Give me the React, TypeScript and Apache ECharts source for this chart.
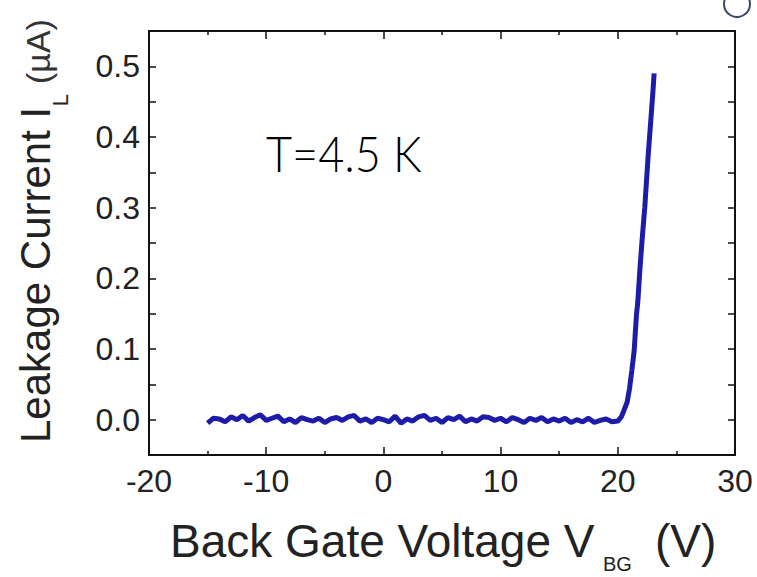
import React, { useEffect, useRef } from "react";
import * as echarts from "echarts";

// Back gate voltage (V) and leakage current (µA)
const voltage: number[] = [
  -15, -14.5, -14, -13.5, -13, -12.5, -12, -11.5, -11, -10.5,
  -10, -9.5, -9, -8.5, -8, -7.5, -7, -6.5, -6, -5.5,
  -5, -4.5, -4, -3.5, -3, -2.5, -2, -1.5, -1, -0.5,
  0, 0.5, 1, 1.5, 2, 2.5, 3, 3.5, 4, 4.5,
  5, 5.5, 6, 6.5, 7, 7.5, 8, 8.5, 9, 9.5,
  10, 10.5, 11, 11.5, 12, 12.5, 13, 13.5, 14, 14.5,
  15, 15.5, 16, 16.5, 17, 17.5, 18, 18.5, 19, 19.5,
  20, 20.3, 20.5, 20.8, 21.0, 21.2, 21.4, 21.5, 21.6, 21.7,
  21.9, 22.1, 22.3, 22.6, 22.8, 23.0, 23.1,
];
const current: number[] = [
  -0.005, 0.002, 0.001, -0.003, 0.004, 0.000, 0.006, -0.002, 0.003, 0.007,
  -0.001, 0.002, 0.005, -0.003, 0.001, -0.004, 0.003, 0.000, -0.002, 0.002,
  -0.004, 0.001, 0.003, -0.001, 0.004, 0.006, -0.002, 0.001, -0.004, 0.002,
  0.000, -0.003, 0.005, -0.005, 0.001, -0.002, 0.004, 0.006, -0.001, 0.002,
  -0.004, 0.003, 0.000, 0.005, -0.003, 0.001, -0.002, 0.004, 0.003, -0.001,
  0.002, -0.003, 0.003, 0.000, -0.004, 0.002, -0.001, 0.003, -0.003, 0.001,
  -0.002, 0.002, -0.004, 0.000, -0.003, 0.002, -0.004, -0.001, 0.001, -0.003,
  -0.002, 0.004, 0.012, 0.025, 0.044, 0.07, 0.098, 0.125, 0.15, 0.165,
  0.216, 0.26, 0.30, 0.376, 0.42, 0.465, 0.49,
];

const yLabelValues: number[] = [0, 0.1, 0.2, 0.3, 0.4, 0.5];
const yTickValues: number[] = [0, 0.05, 0.1, 0.15, 0.2, 0.25, 0.3, 0.35, 0.4, 0.45, 0.5];

export default function App() {
  const ref = useRef<HTMLDivElement>(null);
  useEffect(() => {
    if (!ref.current) return;
    const chart = echarts.init(ref.current, undefined, { renderer: "svg" });
    const labelFont = { fontFamily: "Liberation Sans, Arial, sans-serif", fontSize: 32, color: "#222" };
    const axisLine = { show: true, onZero: false, lineStyle: { color: "#111", width: 2 } };
    const yTick = { show: true, inside: true, length: 7, customValues: yTickValues, lineStyle: { color: "#111", width: 1.5 } };
    const xCommon = {
      type: "value" as const,
      min: -20,
      max: 30,
      interval: 10,
      splitLine: { show: false },
      axisLine,
      axisTick: { show: true, inside: true, length: 8, lineStyle: { color: "#111", width: 1.5 } },
      minorTick: { show: true, splitNumber: 2, length: 4, lineStyle: { color: "#111", width: 1.5 } },
    };
    const yCommon = {
      type: "value" as const,
      min: -0.05,
      max: 0.55,
      splitLine: { show: false },
      axisLine,
      axisTick: yTick,
    };
    const data = voltage.map((v, i) => [v, current[i]]);
    chart.setOption({
      animation: false,
      backgroundColor: "#fff",
      grid: { left: 149, right: 22, top: 31, bottom: 122, containLabel: false },
      xAxis: [
        { ...xCommon, position: "bottom", axisLabel: { ...labelFont, margin: 10 } },
        { ...xCommon, position: "top", axisLabel: { show: false } },
      ],
      yAxis: [
        {
          ...yCommon,
          position: "left",
          axisLabel: { ...labelFont, margin: 9, customValues: yLabelValues, formatter: (v: number) => v.toFixed(1) },
        },
        {
          ...yCommon,
          position: "right",
          axisLabel: { show: false },
        },
      ],
      series: [
        {
          type: "line",
          xAxisIndex: 0,
          yAxisIndex: 0,
          data,
          showSymbol: false,
          smooth: false,
          lineStyle: { color: "#1c1ca8", width: 5 },
        },
      ],
      graphic: [
        {
          type: "text",
          x: 266,
          y: 153,
          scaleX: 0.9,
          style: {
            text: "T=4.5 K",
            fontFamily: "Lato, sans-serif",
            fontWeight: 300,
            fontSize: 50,
            fill: "#000",
            align: "left",
            verticalAlign: "middle",
          },
        },
        {
          type: "text",
          x: 35,
          y: 443,
          rotation: Math.PI / 2,
          style: {
            text: "Leakage Current I",
            fontFamily: "Liberation Sans, Arial, sans-serif",
            fontSize: 42,
            fill: "#222",
            align: "left",
            verticalAlign: "middle",
          },
        },
        {
          type: "text",
          x: 60,
          y: 100,
          rotation: Math.PI / 2,
          style: {
            text: "L",
            fontFamily: "Liberation Sans, Arial, sans-serif",
            fontSize: 22,
            fill: "#222",
            align: "center",
            verticalAlign: "middle",
          },
        },
        {
          type: "text",
          x: 38,
          y: 84,
          rotation: Math.PI / 2,
          style: {
            text: "(µA)",
            fontFamily: "Liberation Sans, Arial, sans-serif",
            fontSize: 34,
            fill: "#333",
            align: "left",
            verticalAlign: "middle",
          },
        },
        {
          type: "text",
          x: 170,
          y: 541,
          style: {
            text: "Back Gate Voltage V",
            fontFamily: "Liberation Sans, Arial, sans-serif",
            fontSize: 46,
            fill: "#222",
            align: "left",
            verticalAlign: "middle",
          },
        },
        {
          type: "text",
          x: 603,
          y: 564,
          style: {
            text: "BG",
            fontFamily: "Liberation Sans, Arial, sans-serif",
            fontSize: 20,
            fill: "#222",
            align: "left",
            verticalAlign: "middle",
          },
        },
        {
          type: "text",
          x: 655,
          y: 541,
          style: {
            text: "(V)",
            fontFamily: "Liberation Sans, Arial, sans-serif",
            fontSize: 46,
            fill: "#222",
            align: "left",
            verticalAlign: "middle",
          },
        },
        {
          type: "circle",
          shape: { cx: 737, cy: 4, r: 13 },
          style: { fill: "none", stroke: "#3b4a6b", lineWidth: 2 },
        },
      ],
    });
    return () => chart.dispose();
  }, []);
  return <div ref={ref} style={{ width: 757, height: 577, position: "fixed", left: 0, top: 0, background: "#fff" }} />;
}
